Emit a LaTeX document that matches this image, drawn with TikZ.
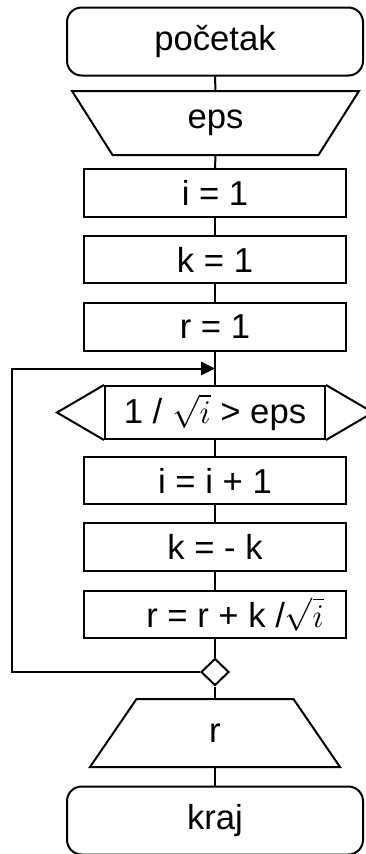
\documentclass[tikz,border=0pt]{standalone}
\usepackage{fontspec}
\setmainfont{Liberation Sans}
\usetikzlibrary{arrows.meta,shapes.geometric}

\tikzset{
  term/.style={draw,rounded corners=11pt,minimum width=222pt,minimum height=51pt,inner sep=0pt},
  opbox/.style={draw,minimum width=196.5pt,minimum height=35.5pt,inner sep=0pt},
  iobox/.style={minimum height=#1,inner sep=0pt},
  merge/.style={draw,diamond,minimum width=21pt,minimum height=20.25pt,inner sep=0pt}
}

\begin{document}
\begin{tikzpicture}[x=0.75pt,y=-0.75pt,line width=1.5pt,>={Triangle[length=10.5pt,width=10pt]},
    font=\fontsize{26pt}{30pt}\selectfont]
        \useasboundingbox (0,0) rectangle (366,854);
        \node[term] (start) at (215,41.5) {početak};
        \node[iobox=46.5pt,minimum width=213.75pt] (eps) at (215.5,123) {eps};
        \draw (eps.north west) -- (eps.north east) -- ([xshift=-30.4pt]eps.south east)
              -- ([xshift=30.4pt]eps.south west) -- cycle;
        \node[opbox] (i1) at (215,193) {i = 1};
        \node[opbox] (k1) at (215,259.5) {k = 1};
        \node[opbox] (r1) at (215,327) {r = 1};
        \coordinate (loop) at (215,368.5);
        \node[draw,minimum width=165pt,minimum height=39.75pt,inner sep=0pt] (cond) at (215,412.5) {1 / $\sqrt{i}$ > eps};
        \draw (cond.north west) -- ([xshift=-35.25pt]cond.west) -- (cond.south west);
        \draw (cond.north east) -- ([xshift=35.25pt]cond.east) -- (cond.south east);
        \node[opbox] (ii) at (215,480.5) {i = i + 1};
        \node[opbox] (kk) at (215,547) {k = - k};
        \node[opbox] (rr) at (215,614.5) {\hspace*{30pt}r = r + k /$\sqrt{i}$};
        \node[merge] (m) at (215,672) {};
        \node[iobox=49.5pt,minimum width=186pt] (out) at (215,733) {r};
        \draw (out.south west) -- (out.south east) -- ([xshift=-34.9pt]out.north east)
              -- ([xshift=34.9pt]out.north west) -- cycle;
        \node[term] (stop) at (215,820.5) {kraj};
        \coordinate (lb) at (12,672);
        \coordinate (lt) at (12,368.5);
        % connectors
        \draw (start.south) -- (eps.north);
        \draw (eps.south) -- (i1.north);
        \draw (i1.south) -- (k1.north);
        \draw (k1.south) -- (r1.north);
        \draw (r1.south) -- (cond.north);
        \draw (cond.south) -- (ii.north);
        \draw (ii.south) -- (kk.north);
        \draw (kk.south) -- (rr.north);
        \draw (rr.south) -- (m.north);
        \draw (m.south) -- (out.north);
        \draw (out.south) -- (stop.north);
        \draw[->] (m.west) -- (lb) -- (lt) -- (loop);
      \end{tikzpicture}
\end{document}
